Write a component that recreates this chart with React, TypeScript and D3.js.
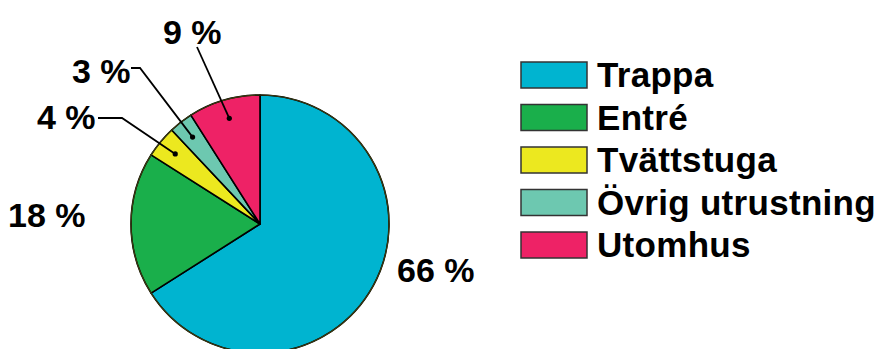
import React from "react";
import * as d3 from "d3";

const categories = ["Trappa", "Entré", "Tvättstuga", "Övrig utrustning", "Utomhus"];
const values = [66, 18, 4, 3, 9];
const colors = ["#00b4d0", "#1aaf4b", "#ece81f", "#6dc8b0", "#ee2266"];

// label layout: text position and leader bend points (from text side)
const labelLayout: { x: number; y: number; leader: [number, number][] | null }[] = [
  { x: 397, y: 282, leader: null },
  { x: 8, y: 227, leader: null },
  { x: 37, y: 129, leader: [[98, 118], [122, 118]] },
  { x: 72, y: 83, leader: [[131, 68], [140, 68]] },
  { x: 163, y: 44, leader: [[197, 47]] },
];

export default function App() {
  const W = 883, H = 349;
  const cx = 260, cy = 224, R = 129;
  const pie = d3.pie<number>().sort(null).value((d) => d).startAngle(0).endAngle(2 * Math.PI);
  const arcs = pie(values);
  const arc = d3.arc<d3.PieArcDatum<number>>().innerRadius(0).outerRadius(R);
  const dotArc = d3.arc<d3.PieArcDatum<number>>().innerRadius(110).outerRadius(110);

  const legendY = d3.scaleBand<string>().domain(categories).range([62, 62 + 42.5 * 5]).paddingInner(0);

  return (
    <svg width={W} height={H} style={{ position: "absolute", left: 0, top: 0, background: "#fff" }}
      fontFamily="'Liberation Sans', Arial, sans-serif" fontWeight="bold">
      <g transform={`translate(${cx},${cy})`}>
        {arcs.map((a, i) => (
          <path key={i} d={arc(a) || ""} fill={colors[i]} stroke="#000" strokeWidth={1.6} strokeLinejoin="round" />
        ))}
        <circle r={R} fill="none" stroke="#3a3a10" strokeWidth={1.2} />
      </g>
      {arcs.map((a, i) => {
        const L = labelLayout[i];
        const [dx, dy] = dotArc.centroid(a);
        const dot: [number, number] = [cx + dx, cy + dy];
        return (
          <g key={i}>
            <text x={L.x} y={L.y} fontSize={34} fill="#000">{`${values[i]} %`}</text>
            {L.leader && (
              <>
                <polyline points={[...L.leader, dot].map((p) => p.join(",")).join(" ")} fill="none" stroke="#000" strokeWidth={1.8} />
                <circle cx={dot[0]} cy={dot[1]} r={2.6} fill="#000" />
              </>
            )}
          </g>
        );
      })}
      {categories.map((c, i) => {
        const y = legendY(c)!;
        return (
          <g key={c}>
            <rect x={521} y={y} width={66} height={26} fill={colors[i]} stroke="#333" strokeWidth={1.5} />
            <text x={597} y={y + 25} fontSize={35} letterSpacing={0.3} fill="#000">{c}</text>
          </g>
        );
      })}
    </svg>
  );
}
